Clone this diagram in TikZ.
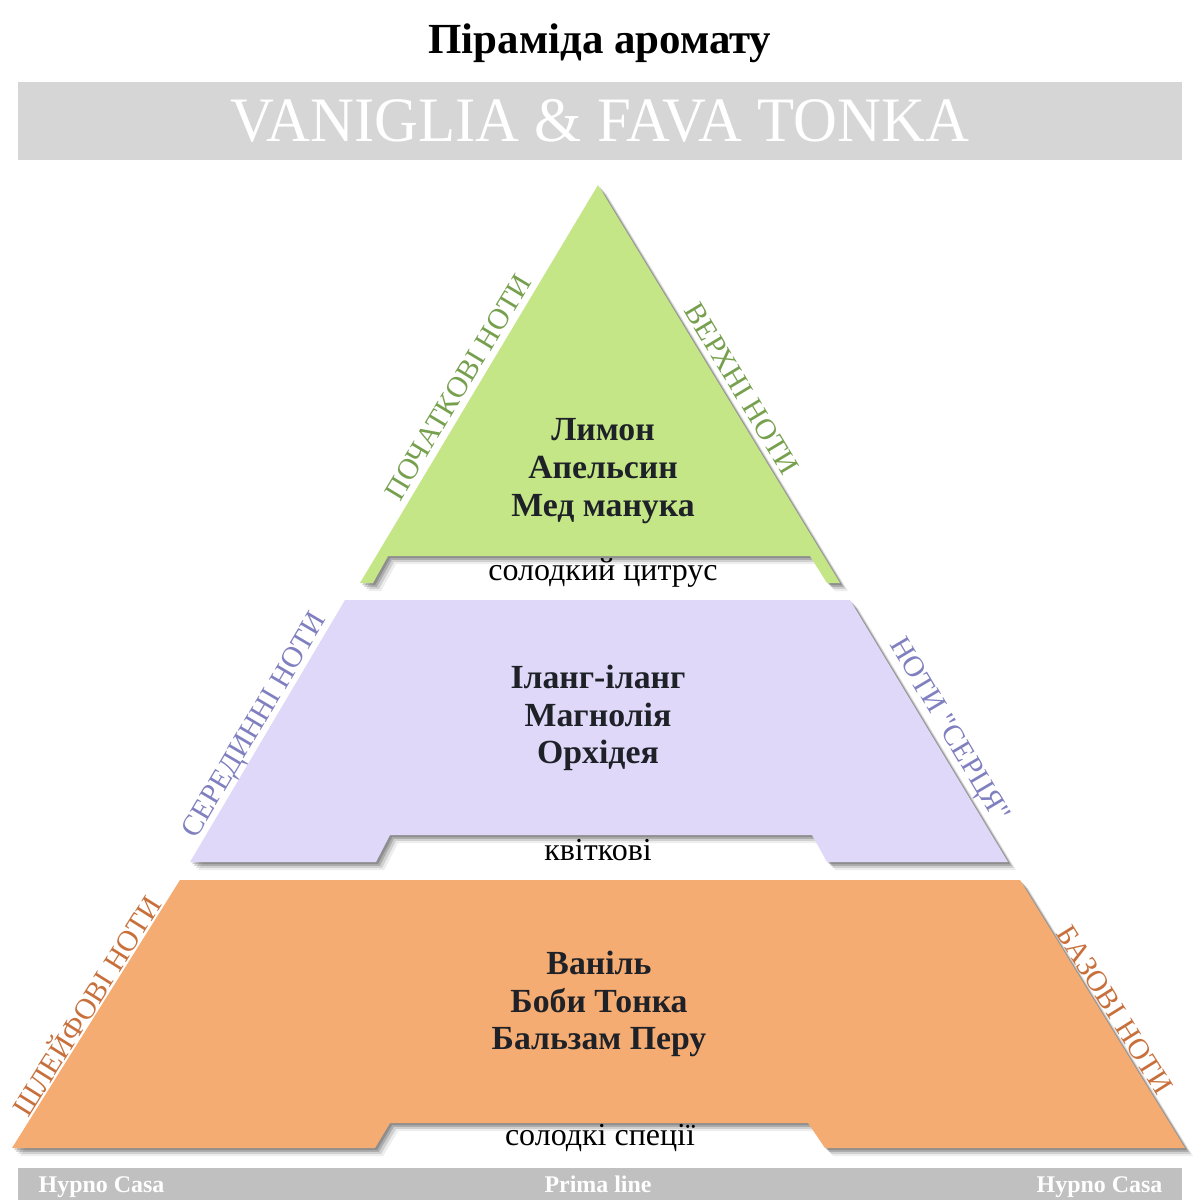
\documentclass[tikz,border=0pt]{standalone}
\usepackage{fontspec}
\setmainfont{Liberation Serif}
\usetikzlibrary{shadows}
\definecolor{greenfill}{RGB}{197,230,135}
\definecolor{greenlab}{RGB}{118,160,78}
\definecolor{purpfill}{RGB}{224,216,248}
\definecolor{purplab}{RGB}{128,128,192}
\definecolor{orfill}{RGB}{245,172,114}
\definecolor{orlab}{RGB}{200,112,60}
\definecolor{bannergray}{RGB}{214,214,214}
\definecolor{footgray}{RGB}{192,192,192}
\definecolor{darktext}{RGB}{30,34,40}
\tikzset{
  tier/.style={
    drop shadow={shadow xshift=0.6pt,shadow yshift=-0.6pt,opacity=0.18,fill=black},
    drop shadow={shadow xshift=1.1pt,shadow yshift=-1.1pt,opacity=0.16,fill=black},
    drop shadow={shadow xshift=1.7pt,shadow yshift=-1.7pt,opacity=0.12,fill=black},
    drop shadow={shadow xshift=2.3pt,shadow yshift=-2.3pt,opacity=0.07,fill=black}},
  maintext/.style={align=center,text=darktext,font=\fontsize{9.6}{10.7}\selectfont\bfseries},
  subtext/.style={text=black,font=\fontsize{9.1}{10}\selectfont},
  sidelab/.style={font=\fontsize{8.4}{10}\selectfont},
  foottext/.style={text=white,inner sep=0pt,font=\fontsize{6.8}{8}\selectfont\bfseries}
}
\begin{document}
\begin{tikzpicture}[x=0.01cm,y=-0.01cm]
\useasboundingbox (0,0) rectangle (1200,1200);
\fill[white] (0,0) rectangle (1200,1200);
% title
\node[font=\fontsize{12.2}{13}\selectfont\bfseries] (title) at (600,43) {Піраміда аромату};
% banner
\fill[bannergray] (18,82) rectangle (1182,160);
\node[text=white,font=\fontsize{18}{20}\selectfont,xscale=0.96] (banner) at (600,121) {VANIGLIA \& FAVA TONKA};
% green triangle
\fill[greenfill,tier] (598,185) -- (840,583) -- (827,583) -- (810,556) -- (388,556) -- (373,583) -- (360,583) -- cycle;
\node[maintext] (top) at (603,471) {Лимон\\Апельсин\\Мед манука};
\node[subtext] (topsub) at (603,573) {солодкий цитрус};
\node[sidelab,text=greenlab,rotate=59] (topL) at (458,387) {ПОЧАТКОВІ НОТИ};
\node[sidelab,text=greenlab,rotate=-59] (topR) at (742,389) {ВЕРХНІ НОТИ};
% purple trapezoid
\fill[purpfill,tier] (345,600) -- (850,600) -- (1008,862) -- (827,862) -- (812,835) -- (390,835) -- (376,862) -- (190,862) -- cycle;
\node[maintext] (mid) at (598,718) {Іланг-іланг\\Магнолія\\Орхідея};
\node[subtext] (midsub) at (598,850) {квіткові};
\node[sidelab,text=purplab,rotate=59.4] (midL) at (256,726) {СЕРЕДИННІ НОТИ};
\node[sidelab,text=purplab,rotate=-59.4,font=\fontsize{8.4}{10}\selectfont\addfontfeatures{Ligatures=TeXOff}] (midR) at (948,731) {НОТИ "СЕРЦЯ"};
% orange trapezoid
\fill[orfill,tier] (180,880) -- (1020,880) -- (1185,1148) -- (825,1148) -- (808,1123) -- (390,1123) -- (375,1148) -- (12,1148) -- cycle;
\node[maintext] (base) at (599,1004) {Ваніль\\Боби Тонка\\Бальзам Перу};
\node[subtext] (basesub) at (600,1138) {солодкі спеції};
\node[sidelab,text=orlab,rotate=58] (baseL) at (85,1005) {ШЛЕЙФОВІ НОТИ};
\node[sidelab,text=orlab,rotate=-58] (baseR) at (1115,1010) {БАЗОВІ НОТИ};
% footer
\fill[footgray] (18,1168) rectangle (1182,1200);
\node[foottext,anchor=base west] (footL) at (38,1192) {Hypno Casa};
\node[foottext,anchor=base] (footC) at (598,1192) {Prima line};
\node[foottext,anchor=base east] (footR) at (1163,1192) {Hypno Casa};
\end{tikzpicture}
\end{document}
